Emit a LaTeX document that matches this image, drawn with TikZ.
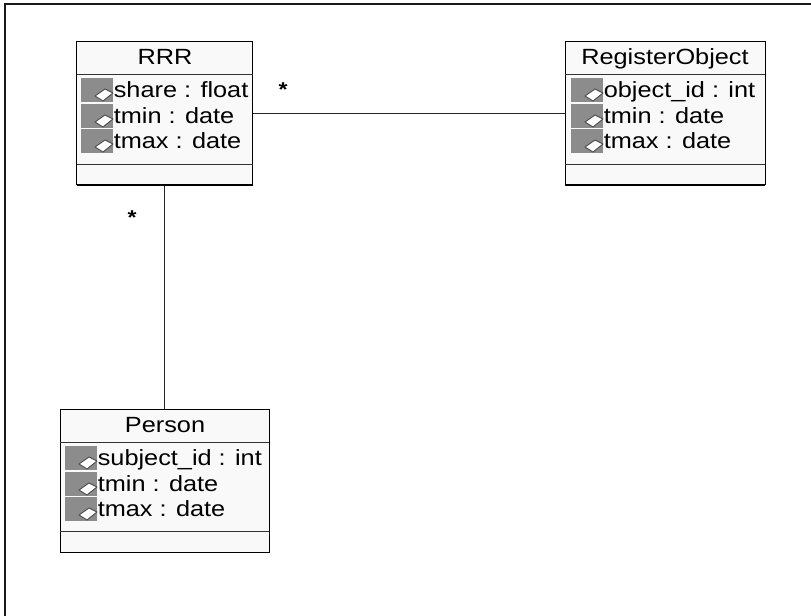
\documentclass[tikz,border=0pt]{standalone}
\usepackage{fontspec}
\setmainfont[FakeStretch=1.15]{Liberation Sans}
\usetikzlibrary{calc}
\definecolor{boxfill}{HTML}{F9F9F9}
\definecolor{icongray}{HTML}{8C8C8C}
\tikzset{
  classbox/.style={draw=black,fill=boxfill,line width=0.75pt,rectangle,inner sep=0pt,minimum height=107.25pt},
  rrrw/.style={minimum width=132pt},
  regw/.style={minimum width=150pt},
  perw/.style={minimum width=156.75pt},
  divider/.style={line width=0.75pt,draw=black!80},
  assoc/.style={draw=black!85,line width=0.75pt},
  title/.style={font=\fontsize{16.5}{16.5}\selectfont,inner sep=0pt,anchor=base},
  attr/.style={font=\fontsize{16.5}{16.5}\selectfont,inner sep=0pt,anchor=base west},
  star/.style={font=\fontsize{15}{15}\bfseries\selectfont,inner sep=0pt,anchor=center},
  graycell/.style={fill=icongray,draw=none,rectangle,inner sep=0pt,minimum width=24pt,minimum height=18pt,anchor=north west},
  rhomb/.style={fill=white,draw=black!70,line width=0.7pt,line join=round},
}
\newcommand{\attrrow}[4]{% x of gray, y top, name, text
  \node[graycell] (#3c) at (#1,#2) {};
  \draw[rhomb] ($(#3c.north west)+(14,18)$) -- ++(10,-7) -- ++(8,4) -- ++(-10,8) -- cycle;
  \node[attr] (#3t) at ($(#3c.north east)+(0,19.8)$) {#4};
}
\begin{document}
\begin{tikzpicture}[x=0.75pt,y=-0.75pt]
\useasboundingbox (0,0) rectangle (811,616);
\fill[white] (0,0) rectangle (811,616);
\draw[line width=1.5pt,black!90] (4.5,616) -- (4.5,4.5) -- (811,4.5);

\node[classbox,rrrw] (rrr) at (164.5,113.5) {};
\node[classbox,regw] (reg) at (665,113.5) {};
\node[classbox,perw] (per) at (164.5,481) {};

\draw[assoc] (rrr.east) -- (reg.west);
\draw[assoc] (rrr.south) -- (per.north);

% RRR
\draw[divider] (76.5,75) -- (252.5,75);
\draw[divider] (76.5,165) -- (252.5,165);
\draw[line width=1.5pt] (76.5,185) -- (252.5,185);
\node[title] (rrrn) at (165,65) {RRR};
\attrrow{81}{78}{ra}{share : float}
\attrrow{81}{104}{rb}{tmin : date}
\attrrow{81}{129}{rc}{tmax : date}

% RegisterObject
\draw[divider] (565,75) -- (765,75);
\draw[divider] (565,165) -- (765,165);
\draw[line width=1.5pt] (565,185) -- (765,185);
\node[title] (regn) at (665,65) {RegisterObject};
\attrrow{571}{78}{ga}{object\_id : int}
\attrrow{571}{104}{gb}{tmin : date}
\attrrow{571}{129}{gc}{tmax : date}

% Person
\draw[divider] (60,443) -- (269,443);
\draw[divider] (60,532) -- (269,532);
\node[title] (pern) at (165,433) {Person};
\attrrow{65}{446}{pa}{subject\_id : int}
\attrrow{65}{472}{pb}{tmin : date}
\attrrow{65}{497}{pc}{tmax : date}

\node[star] (s1) at (283,90) {*};
\node[star] (s2) at (132,218) {*};
\end{tikzpicture}
\end{document}
